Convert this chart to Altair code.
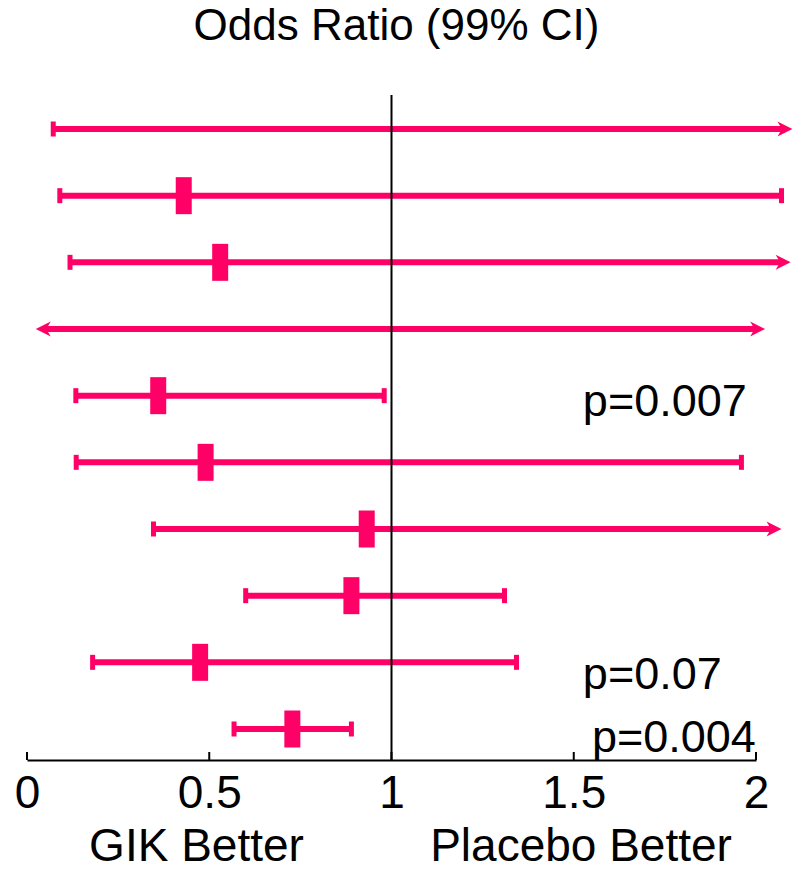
import altair as alt
import pandas as pd

# Forest plot: odds ratios with 99% confidence intervals, one row per trial
rows = [1, 2, 3, 4, 5, 6, 7, 8, 9, 10]
lower = [0.072, 0.09, 0.118, 0.024, 0.134, 0.135, 0.347, 0.60, 0.18, 0.568]
estimate = [None, 0.43, 0.53, None, 0.36, 0.49, 0.932, 0.89, 0.475, 0.728]
upper = [2.10, 2.07, 2.095, 2.025, 0.98, 1.96, 2.07, 1.31, 1.343, 0.89]
# intervals running off the scale end in an arrow instead of a cap
lower_open = [False, False, False, True, False, False, False, False, False, False]
upper_open = [True, False, True, True, False, False, True, False, False, False]

tick_values = [0, 0.5, 1, 1.5, 2]

p_text = ["p=0.007", "p=0.07", "p=0.004"]
p_x = [1.525, 1.525, 1.55]
p_row = [5.3, 9.4, 10.35]

side_text = ["GIK Better", "Placebo Better"]
side_x = [0.465, 1.52]

PINK = "#FF0066"
FONT = "Liberation Sans"
W, H = 729, 665

ci = pd.DataFrame({
    "row": rows, "lower": lower, "estimate": estimate, "upper": upper,
    "lower_open": lower_open, "upper_open": upper_open,
})

ends = pd.concat([
    pd.DataFrame({"row": rows, "x": lower, "open": lower_open, "side": "lo"}),
    pd.DataFrame({"row": rows, "x": upper, "open": upper_open, "side": "hi"}),
], ignore_index=True)

x_scale = alt.Scale(domain=[0, 2], nice=False, zero=False)
y_scale = alt.Scale(domain=[0.49, 10.465], nice=False, zero=False, reverse=True)

x_axis = alt.Axis(
    values=tick_values, format="~g", ticks=False, tickSize=0, grid=False,
    domainColor="black", domainWidth=2, labelFont=FONT, labelFontSize=46,
    labelColor="black", labelBaseline="alphabetic", labelPadding=47,
    labelFlush=False, title=None,
)


def xq(field):
    return alt.X(field, scale=x_scale)


def yq(field):
    return alt.Y(field, scale=y_scale, axis=None)


base = alt.Chart(ci)

# interval lines, pulled back slightly under arrowheads
lines = base.transform_calculate(
    lo_line="datum.lower_open ? datum.lower + 0.02 : datum.lower",
    hi_line="datum.upper_open ? datum.upper - 0.02 : datum.upper",
).mark_rule(color=PINK, strokeWidth=6, strokeCap="butt").encode(
    x=alt.X("lo_line:Q", scale=x_scale, axis=x_axis),
    x2="hi_line:Q",
    y=yq("row:Q"),
)

caps = alt.Chart(ends).transform_filter("!datum.open").mark_tick(
    color=PINK, orient="vertical", thickness=5, size=15, opacity=1
).encode(x=xq("x:Q"), y=yq("row:Q"))

right_arrow = "M0,0 L-2,-1 L-1.4,0 L-2,1 Z"
left_arrow = "M0,0 L2,-1 L1.4,0 L2,1 Z"

arrows_r = alt.Chart(ends).transform_filter(
    "datum.open && datum.side == 'hi'"
).mark_point(shape=right_arrow, size=225, filled=True, color=PINK, opacity=1).encode(
    x=xq("x:Q"), y=yq("row:Q")
)

arrows_l = alt.Chart(ends).transform_filter(
    "datum.open && datum.side == 'lo'"
).mark_point(shape=left_arrow, size=225, filled=True, color=PINK, opacity=1).encode(
    x=xq("x:Q"), y=yq("row:Q")
)

points = base.transform_filter("isValid(datum.estimate)").mark_tick(
    color=PINK, orient="vertical", thickness=16, size=37, opacity=1
).encode(x=xq("estimate:Q"), y=yq("row:Q"))

ref_line = alt.Chart(pd.DataFrame({"x": [1]})).mark_rule(
    color="black", strokeWidth=2
).encode(x=xq("x:Q"))

# upward tick marks on the odds-ratio axis
axis_ticks = alt.Chart(pd.DataFrame({"x": tick_values})).mark_rule(
    color="black", strokeWidth=2
).encode(
    x=xq("x:Q"),
    y=alt.value(H - 8),
    y2=alt.value(H),
)

p_labels = alt.Chart(pd.DataFrame({"t": p_text, "x": p_x, "row": p_row})).mark_text(
    font=FONT, fontSize=45, color="black", align="left", baseline="alphabetic"
).encode(x=xq("x:Q"), y=yq("row:Q"), text="t:N")

side_labels = alt.Chart(pd.DataFrame({"t": side_text, "x": side_x})).mark_text(
    font=FONT, fontSize=46, color="black", align="center", baseline="alphabetic"
).encode(x=xq("x:Q"), y=alt.value(H + 101), text="t:N")

chart = alt.layer(
    lines, ref_line, caps, arrows_r, arrows_l, points, axis_ticks, p_labels, side_labels
).properties(
    width=W,
    height=H,
    autosize=alt.AutoSizeParams(type="none"),
    padding={"left": 27, "right": 49, "top": 95, "bottom": 111},
    title=alt.TitleParams(
        "Odds Ratio (99% CI)", font=FONT, fontSize=44, fontWeight="normal",
        color="black", baseline="alphabetic", offset=10, anchor="middle", dx=5,
    ),
).configure(background="white").configure_view(
    stroke="transparent", strokeWidth=0
).configure_axis(grid=False)

chart.save("out.html", embed_options={"renderer": "svg", "actions": False})
